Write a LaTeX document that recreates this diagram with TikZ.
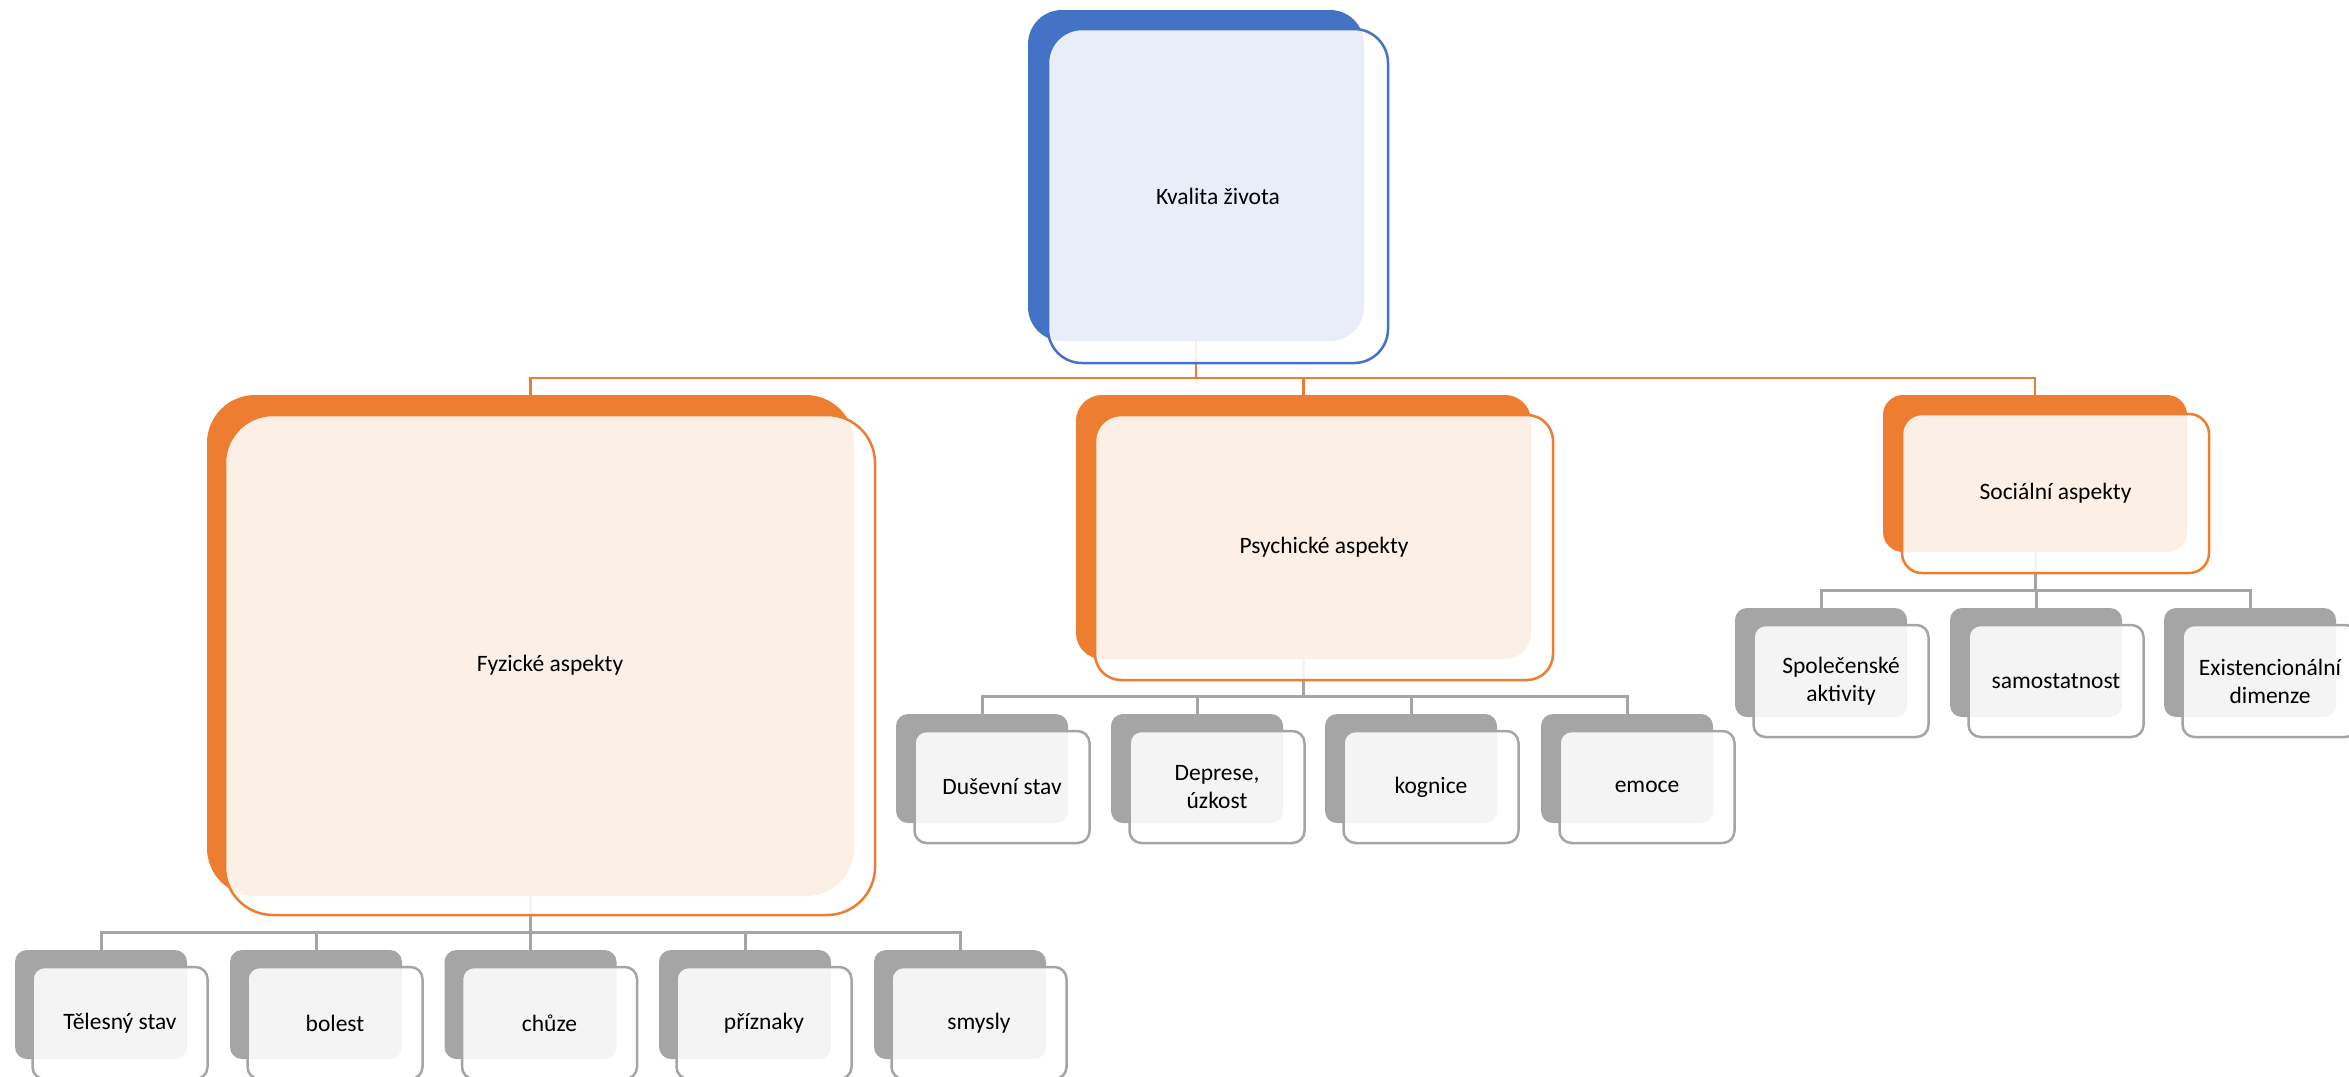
\documentclass[tikz,border=0pt]{standalone}
\usepackage{fontspec}
\setmainfont{Carlito}
\usepackage{xcolor}
\usepackage{tikz}
\usetikzlibrary{backgrounds}

\definecolor{kblue}{HTML}{4472C4}
\definecolor{korange}{HTML}{ED7D31}
\definecolor{kgray}{HTML}{A5A5A5}

\begin{document}
\begin{tikzpicture}[x=1pt, y=-1pt,
    every node/.style={font=\fontsize{23.5}{28}\selectfont, align=center, inner sep=0pt},
    back/.style={rounded corners=#1, draw=none},
    front/.style={rounded corners=#1, fill=white, fill opacity=0.88, text opacity=1, line width=2.5pt},
    leafback/.style={back=12, fill=kgray, minimum width=172, minimum height=109},
    leaffront/.style={front=12, draw=kgray, minimum width=175, minimum height=112},
    orangeline/.style={draw=korange, line width=2.5pt},
    grayline/.style={draw=kgray, line width=3pt}]
    \useasboundingbox (0,0) rectangle (2349,1076);

    % Top
    \node[back=34, fill=kblue, minimum width=336, minimum height=331] (kvalitaB) at (1196,175.5) {};
    \node[front=34, draw=kblue, minimum width=340, minimum height=334] (kvalita) at (1218,196) {Kvalita života};

    % Aspects
    \node[back=48, fill=korange, minimum width=647, minimum height=501] (fyzB) at (530.5,645.5) {};
    \node[front=48, draw=korange, minimum width=650, minimum height=500] (fyz) at (550,665) {Fyzické aspekty};
    \node[back=26, fill=korange, minimum width=455, minimum height=264] (psychB) at (1303.5,527) {};
    \node[front=26, draw=korange, minimum width=458, minimum height=265] (psych) at (1324,547.5) {Psychické aspekty};
    \node[back=20, fill=korange, minimum width=304, minimum height=157] (socB) at (2035,473.5) {};
    \node[front=20, draw=korange, minimum width=307, minimum height=159] (soc) at (2055.5,493.5) {Sociální aspekty};

    % Fyzicke leaves
    \node[leafback] (telB) at (101,1004.5) {};
    \node[leaffront] (tel) at (120,1023) {Tělesný stav};
    \node[leafback] (bolB) at (316,1004.5) {};
    \node[leaffront] (bol) at (335,1023) {bolest};
    \node[leafback] (chuB) at (530.5,1004.5) {};
    \node[leaffront] (chu) at (549.5,1023) {chůze};
    \node[leafback] (priB) at (745,1004.5) {};
    \node[leaffront] (pri) at (764,1023) {příznaky};
    \node[leafback] (smyB) at (960,1004.5) {};
    \node[leaffront] (smy) at (979,1023) {smysly};

    % Psychicke leaves
    \node[leafback] (dusB) at (982,768.5) {};
    \node[leaffront] (dus) at (1002,787) {Duševní stav};
    \node[leafback] (depB) at (1197,768.5) {};
    \node[leaffront] (dep) at (1217,787) {Deprese,\\úzkost};
    \node[leafback] (kogB) at (1411,768.5) {};
    \node[leaffront] (kog) at (1431,787) {kognice};
    \node[leafback] (emoB) at (1627,768.5) {};
    \node[leaffront] (emo) at (1647,787) {emoce};

    % Socialni leaves
    \node[leafback] (spoB) at (1821,662.5) {};
    \node[leaffront] (spo) at (1841,681) {Společenské\\aktivity};
    \node[leafback] (samB) at (2036,662.5) {};
    \node[leaffront] (sam) at (2056,681) {samostatnost};
    \node[leafback] (exiB) at (2250,662.5) {};
    \node[leaffront] (exi) at (2270,681) {Existencionální\\dimenze};

    % Lines
    \begin{pgfonlayer}{background}
    \foreach \c in {fyzB,psychB,socB}
        \draw[orangeline] (kvalitaB.south) |- ([yshift=17pt]\c.north) -- (\c.north);
    \foreach \c in {telB,bolB,chuB,priB,smyB}
        \draw[grayline] (fyzB.south) |- ([yshift=17pt]\c.north) -- (\c.north);
    \foreach \c in {dusB,depB,kogB,emoB}
        \draw[grayline] (psychB.south) |- ([yshift=17pt]\c.north) -- (\c.north);
    \foreach \c in {spoB,samB,exiB}
        \draw[grayline] (socB.south) |- ([yshift=17pt]\c.north) -- (\c.north);
    \end{pgfonlayer}
\end{tikzpicture}
\end{document}
